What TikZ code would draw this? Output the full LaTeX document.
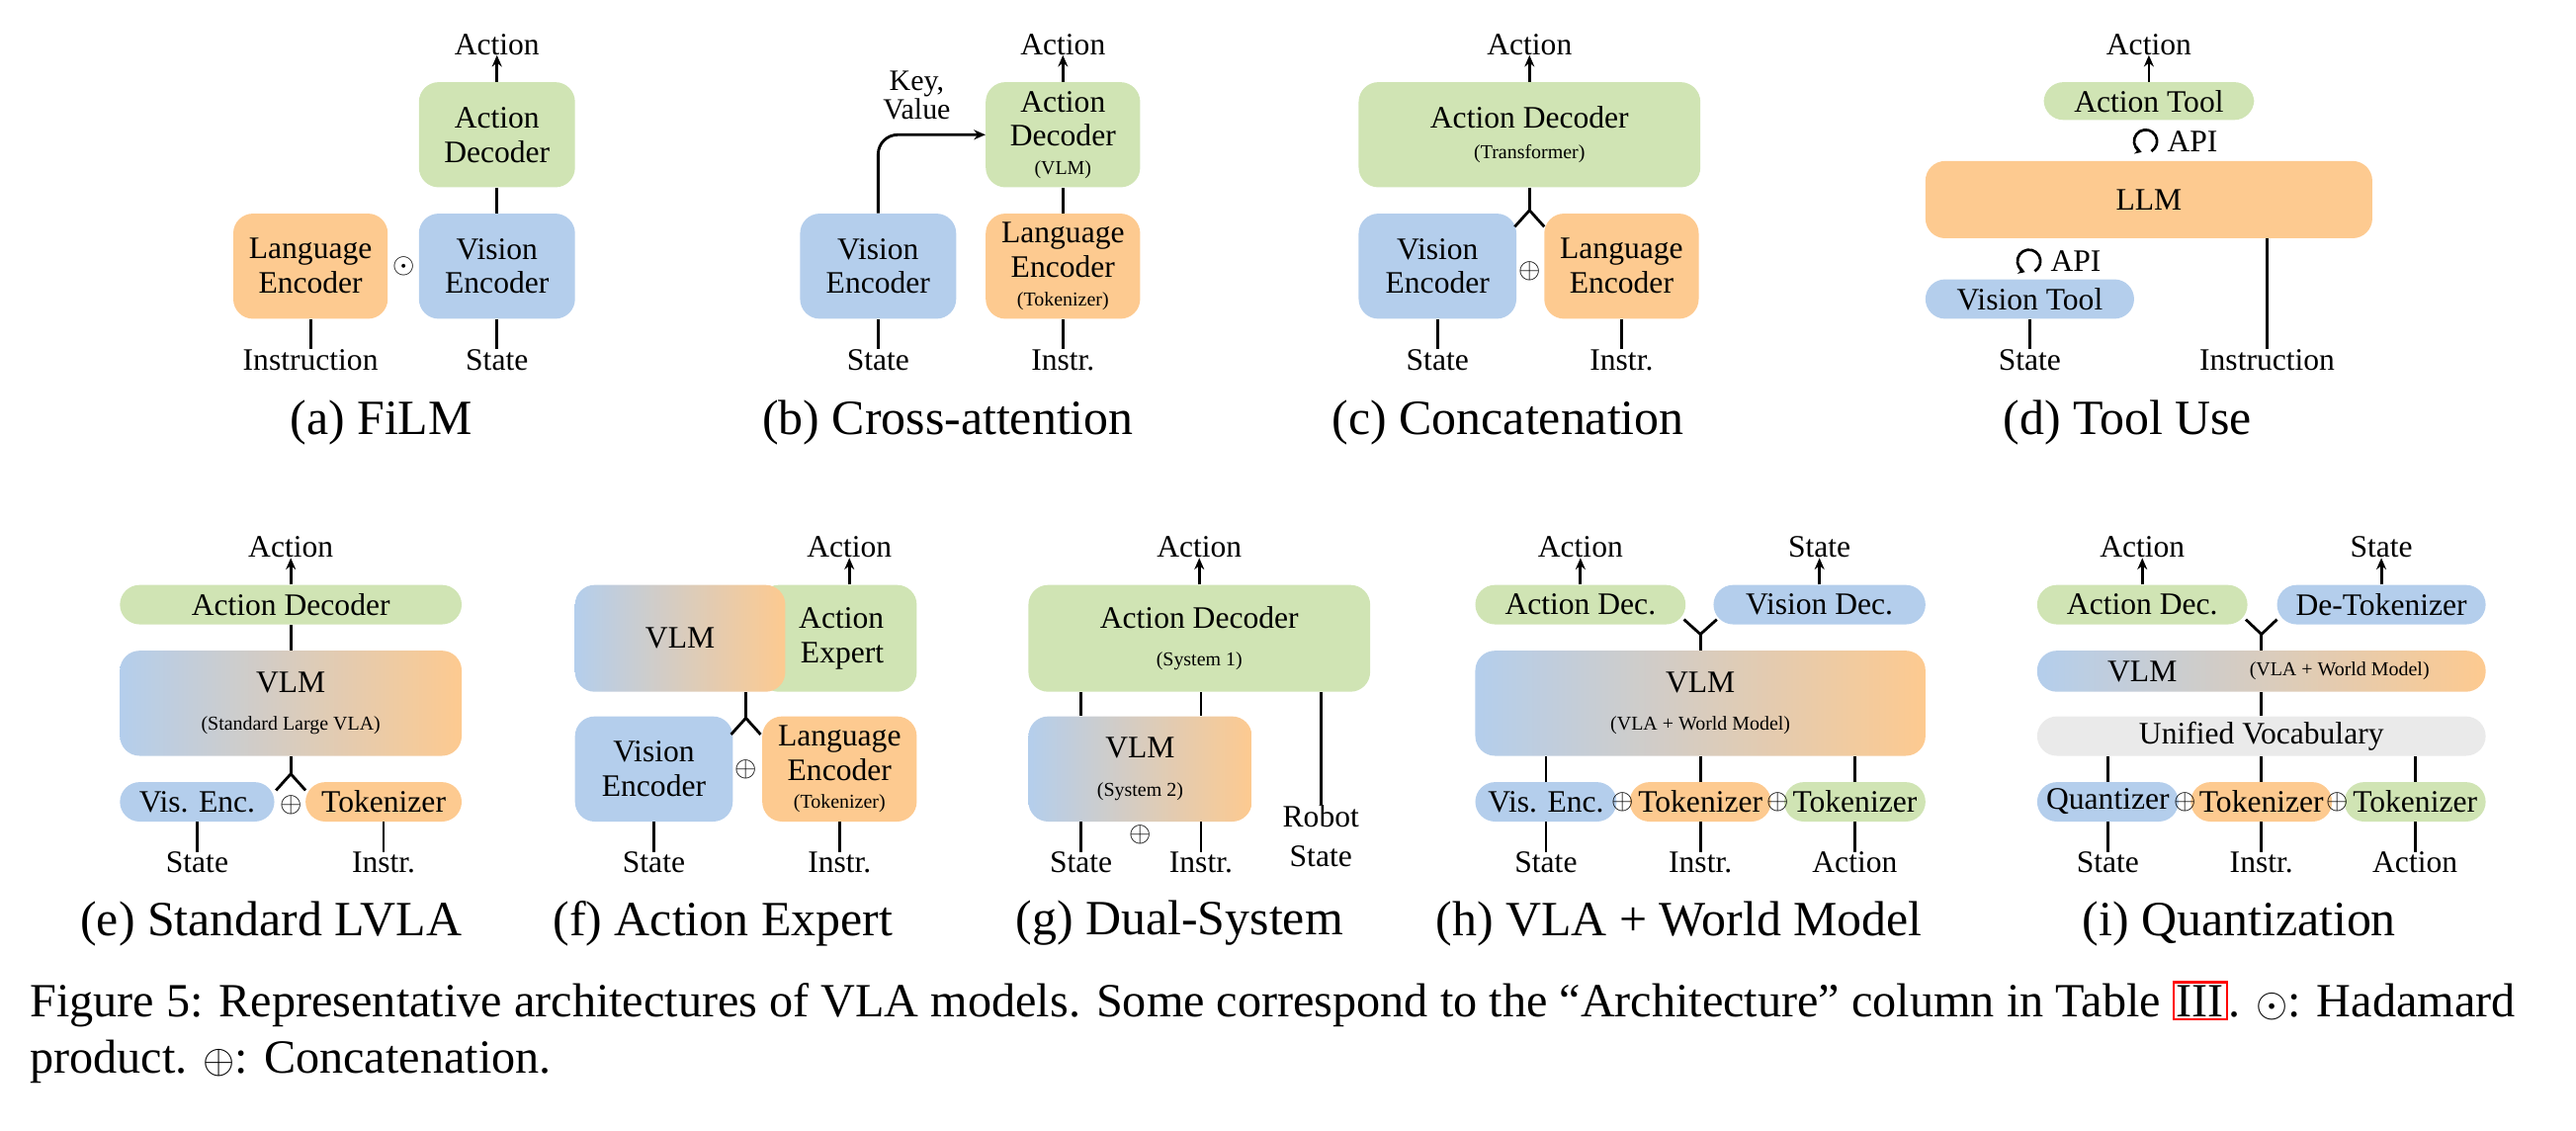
\documentclass[tikz,border=0pt]{standalone}
\usepackage{fontspec}
\setmainfont{Liberation Serif}
\usetikzlibrary{arrows.meta,calc}
\definecolor{cg}{RGB}{208,228,180}
\definecolor{cb}{RGB}{180,206,236}
\definecolor{co}{RGB}{253,202,144}
\definecolor{cy}{RGB}{234,234,234}
\newcommand{\sbt}{\fontsize{12}{13}\selectfont}
\begin{document}
\begin{tikzpicture}[x=1pt,y=-1pt,
  bx/.style={rounded corners=12pt,inner sep=0pt,align=center,font=\fontsize{19}{21}\selectfont},
  G/.style={bx,fill=cg},B/.style={bx,fill=cb},O/.style={bx,fill=co},Y/.style={bx,fill=cy},
  V/.style={bx,left color=cb,right color=co},
  lb/.style={inner sep=0pt,font=\fontsize{19}{24}\selectfont,align=center},
  capt/.style={inner sep=0pt,font=\fontsize{30}{32}\selectfont},
  ln/.style={line width=1.7pt},
  ar/.style={line width=1.7pt,-{Stealth[length=7pt,width=6pt]}},
  op/.style={inner sep=0pt,font=\fontsize{16}{16}\selectfont}]
\useasboundingbox (0,0) rectangle (1568,688);
% ---------- (a)
\node[G,minimum width=95,minimum height=64] (aAD) at (302.5,82) {Action\\Decoder};
\node[O,minimum width=94,minimum height=64] (aLE) at (189,162) {Language\\Encoder};
\node[B,minimum width=95,minimum height=64] (aVE) at (302.5,162) {Vision\\Encoder};
\node[lb] (aA) at (302.5,27) {Action};
\node[lb] (aI) at (189,219) {Instruction};
\node[lb] (aS) at (302.5,219) {State};
\node[op] (aop) at (246,162) {$\odot$};
\draw[ar] (aAD) -- (aA);
\draw[ln] (aVE) -- (aAD);
\draw[ln] (aLE) -- (aI);
\draw[ln] (aVE) -- (aS);
\node[capt] (capa) at (232,257) {(a) FiLM};
% ---------- (b)
\node[B,minimum width=95,minimum height=64] (bVE) at (534.5,162) {Vision\\Encoder};
\node[G,minimum width=94,minimum height=64] (bAD) at (647,82) {Action\\Decoder\\[-4pt]{\sbt (VLM)}};
\node[O,minimum width=94,minimum height=64] (bLE) at (647,162) {Language\\Encoder\\[-4pt]{\sbt (Tokenizer)}};
\node[lb] (bA) at (647,27) {Action};
\node[lb] (bS) at (534.5,219) {State};
\node[lb] (bI) at (647,219) {Instr.};
\node[lb,font=\fontsize{18}{18}\selectfont] (bKV) at (558,58) {Key,\\Value};
\draw[ar,rounded corners=12pt] (bVE.north) |- (bAD.west);
\draw[ar] (bAD) -- (bA);
\draw[ln] (bLE) -- (bAD);
\draw[ln] (bVE) -- (bS);
\draw[ln] (bLE) -- (bI);
\node[capt] (capb) at (577,257) {(b) Cross-attention};
% ---------- (c)
\node[G,minimum width=208,minimum height=64] (cAD) at (931,82) {Action Decoder\\[-2pt]{\sbt (Transformer)}};
\node[B,minimum width=96,minimum height=64] (cVE) at (875,162) {Vision\\Encoder};
\node[O,minimum width=94,minimum height=64] (cLE) at (987,162) {Language\\Encoder};
\node[lb] (cA) at (931,27) {Action};
\node[lb] (cS) at (875,219) {State};
\node[lb] (cI) at (987,219) {Instr.};
\node[op] (cop) at (931,165) {$\oplus$};
\coordinate (cf) at (931,128);
\coordinate (cf1) at (922,138);
\coordinate (cf2) at (940,138);
\draw[ar] (cAD) -- (cA);
\draw[ln] (cAD.south) -- (cf);
\draw[ln,line join=round] (cf1) -- (cf) -- (cf2);
\draw[ln] (cVE) -- (cS);
\draw[ln] (cLE) -- (cI);
\node[capt] (capc) at (918,257) {(c) Concatenation};
% ---------- (d)
\node[G,minimum width=128,minimum height=23] (dAT) at (1308,61.5) {Action Tool};
\node[O,minimum width=272,minimum height=47] (dLLM) at (1308,121.5) {LLM};
\node[B,minimum width=127,minimum height=24] (dVT) at (1235.5,182) {Vision Tool};
\node[lb] (dA) at (1308,27) {Action};
\node[lb] (dS) at (1235.5,219) {State};
\node[lb] (dI) at (1380,219) {Instruction};
\coordinate (dic1) at (1306,86);
\coordinate (dic2) at (1235,159);
\foreach \c in {dic1,dic2}{
  \draw[line width=1.6pt,-{Stealth[length=4pt,width=5pt]}] ($(\c)+(3.5,6.06)$) arc[start angle=60,end angle=-250,radius=7];
}
\node[lb,anchor=west] (dapi1) at (1319,86) {API};
\node[lb,anchor=west] (dapi2) at (1248,159) {API};
\draw[ar] (dAT) -- (dA);
\draw[ln] (dVT) -- (dS);
\draw[ln] (dI |- dLLM.south) -- (dI);
\node[capt] (capd) at (1295,257) {(d) Tool Use};
% ---------- (e)
\node[G,minimum width=208,minimum height=24] (eAD) at (177,368) {Action Decoder};
\node[V,minimum width=208,minimum height=64] (eVLM) at (177,428) {VLM\\[2pt]{\sbt (Standard Large VLA)}};
\node[B,minimum width=94,minimum height=24] (eVE) at (120,488) {Vis. Enc.};
\node[O,minimum width=95,minimum height=24] (eTK) at (233.5,488) {Tokenizer};
\node[lb] (eA) at (177,333) {Action};
\node[lb] (eS) at (120,525) {State};
\node[lb] (eI) at (233.5,525) {Instr.};
\node[op] (eop) at (177,490) {$\oplus$};
\coordinate (ef) at (177,471);
\draw[ar] (eAD) -- (eA);
\draw[ln] (eVLM) -- (eAD);
\draw[ln] (eVLM.south) -- (ef);
\draw[ln,line join=round] (168,481) -- (ef) -- (186,481);
\draw[ln] (eVE) -- (eS);
\draw[ln] (eTK) -- (eI);
\node[capt] (cape) at (165,562) {(e) Standard LVLA};
% ---------- (f)
\node[G,minimum width=96,minimum height=65,text width=56,align=right] (fAE) at (510,388.5) {Action\\Expert};
\node[V,minimum width=128,minimum height=65] (fVLM) at (414,388.5) {VLM};
\node[B,minimum width=96,minimum height=64] (fVE) at (398,468) {Vision\\Encoder};
\node[O,minimum width=94,minimum height=64] (fLE) at (511,468) {Language\\Encoder\\[-4pt]{\sbt (Tokenizer)}};
\node[lb] (fA) at (517,333) {Action};
\node[lb] (fS) at (398,525) {State};
\node[lb] (fI) at (511,525) {Instr.};
\node[op] (fop) at (454,468) {$\oplus$};
\coordinate (ff) at (454,437);
\draw[ar] (fA |- fAE.north) -- (fA);
\draw[ln] (ff |- fVLM.south) -- (ff);
\draw[ln,line join=round] (445,447) -- (ff) -- (463,447);
\draw[ln] (fVE) -- (fS);
\draw[ln] (fLE) -- (fI);
\node[capt] (capf) at (440,562) {(f) Action Expert};
% ---------- (g)
\node[G,minimum width=208,minimum height=65] (gAD) at (730,388.5) {Action Decoder\\[2pt]{\sbt (System 1)}};
\node[V,minimum width=136,minimum height=64] (gVLM) at (694,468) {VLM\\[2pt]{\sbt (System 2)}};
\node[lb] (gA) at (730,333) {Action};
\node[lb] (gS) at (658,525) {State};
\node[lb] (gI) at (731,525) {Instr.};
\node[lb,anchor=north] (gR) at (804,490) {Robot\\State};
\node[op] (gop) at (694,508) {$\oplus$};
\draw[ar] (gAD) -- (gA);
\draw[ln] (gS |- gAD.south) -- (gS |- gVLM.north);
\draw[ln] (gI |- gAD.south) -- (gI |- gVLM.north);
\draw[ln] (gR |- gAD.south) -- (gR.north);
\draw[ln] (gS |- gVLM.south) -- (gS);
\draw[ln] (gI |- gVLM.south) -- (gI);
\node[capt] (capg) at (718,562) {(g) Dual-System};
% ---------- (h)
\node[G,minimum width=128,minimum height=24] (hAD) at (962,368) {Action Dec.};
\node[B,minimum width=129,minimum height=24] (hVD) at (1107.5,368) {Vision Dec.};
\node[V,minimum width=274,minimum height=64] (hVLM) at (1035,428) {VLM\\[2pt]{\sbt (VLA + World Model)}};
\node[B,minimum width=86,minimum height=24] (hVE) at (941,488) {Vis. Enc.};
\node[O,minimum width=86,minimum height=24] (hT1) at (1035,488) {Tokenizer};
\node[G,minimum width=86,minimum height=24] (hT2) at (1129,488) {Tokenizer};
\node[op] (hop1) at (988,488) {$\oplus$};
\node[op] (hop2) at (1082,488) {$\oplus$};
\node[lb] (hA) at (962,333) {Action};
\node[lb] (hS) at (1107.5,333) {State};
\node[lb] (hS2) at (941,525) {State};
\node[lb] (hI) at (1035,525) {Instr.};
\node[lb] (hA2) at (1129,525) {Action};
\coordinate (hf) at (1035,386);
\draw[ar] (hAD) -- (hA);
\draw[ar] (hVD) -- (hS);
\draw[ln] (hVLM.north) -- (hf);
\draw[ln,line join=round] (1025,377) -- (hf) -- (1045,377);
\foreach \n/\l in {hVE/hS2,hT1/hI,hT2/hA2}{
  \draw[ln] (\n |- hVLM.south) -- (\n.north);
  \draw[ln] (\n) -- (\l);
}
\node[capt] (caph) at (1022,562) {(h) VLA + World Model};
% ---------- (i)
\node[G,minimum width=128,minimum height=24] (iAD) at (1304,368) {Action Dec.};
\node[B,minimum width=127,minimum height=24] (iDT) at (1449.5,368) {De-Tokenizer};
\node[V,minimum width=273,minimum height=25] (iVLM) at (1376.5,408.5) {};
\node[lb] (iVt) at (1304,408.5) {VLM};
\node[lb,font=\sbt] (iVs) at (1424,408.5) {(VLA + World Model)};
\node[Y,minimum width=273,minimum height=24] (iUV) at (1376.5,448) {Unified Vocabulary};
\node[B,minimum width=86,minimum height=24] (iQ) at (1283,488) {Quantizer};
\node[O,minimum width=86,minimum height=24] (iT1) at (1376.5,488) {Tokenizer};
\node[G,minimum width=86,minimum height=24] (iT2) at (1470,488) {Tokenizer};
\node[op] (iop1) at (1330,488) {$\oplus$};
\node[op] (iop2) at (1423,488) {$\oplus$};
\node[lb] (iA) at (1304,333) {Action};
\node[lb] (iS) at (1449.5,333) {State};
\node[lb] (iS2) at (1283,525) {State};
\node[lb] (iI) at (1376.5,525) {Instr.};
\node[lb] (iA2) at (1470,525) {Action};
\coordinate (if) at (1376.5,386);
\draw[ar] (iAD) -- (iA);
\draw[ar] (iDT) -- (iS);
\draw[ln] (iVLM.north) -- (if);
\draw[ln,line join=round] (1367,377) -- (if) -- (1386,377);
\draw[ln] (iUV) -- (iVLM);
\foreach \n/\l in {iQ/iS2,iT1/iI,iT2/iA2}{
  \draw[ln] (\n |- iUV.south) -- (\n.north);
  \draw[ln] (\n) -- (\l);
}
\node[capt] (capi) at (1363,562) {(i) Quantization};
% ---------- figure caption
\node[inner sep=0pt,anchor=west,font=\fontsize{29}{31}\selectfont] (fc1) at (18,611) {Figure 5: Representative architectures of VLA models. Some correspond to the “Architecture” column in Table {\setlength{\fboxsep}{1pt}\setlength{\fboxrule}{1.5pt}\color{red}\fbox{\color{black}III}}. $\odot$: Hadamard};
\node[inner sep=0pt,anchor=west,font=\fontsize{29}{31}\selectfont] (fc2) at (18,646) {product. $\oplus$: Concatenation.};
\end{tikzpicture}
\end{document}
